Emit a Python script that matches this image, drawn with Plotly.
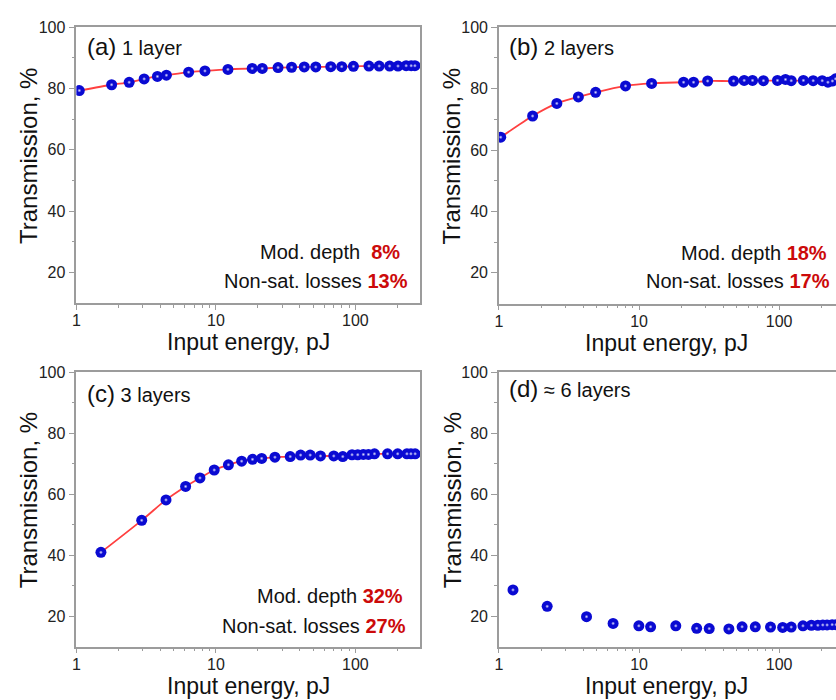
import plotly.graph_objects as go

# ---- measured transmission vs. input pulse energy ----
energy_a = [1.05, 1.79, 2.39, 3.06, 3.81, 4.42, 6.38, 8.35, 12.2, 18.2, 21.5, 27.9,
            34.9, 43.0, 52.0, 66.6, 79.8, 96.8, 125, 148, 176, 202, 231, 251, 267]
trans_a = [79.3, 81.2, 82.0, 83.1, 83.9, 84.3, 85.3, 85.7, 86.2, 86.5, 86.5, 86.8,
           86.9, 87.0, 87.0, 87.1, 87.1, 87.2, 87.3, 87.3, 87.3, 87.3, 87.4, 87.4, 87.4]

energy_b = [1.03, 1.74, 2.59, 3.69, 4.90, 8.01, 12.3, 20.8, 24.5, 30.9, 47.3, 56.3,
            64.6, 77.3, 97.3, 111, 122, 149, 175, 203, 223, 240, 253]
trans_b = [64.2, 71.1, 75.2, 77.3, 78.8, 80.9, 81.7, 82.1, 82.1, 82.5, 82.5, 82.7,
           82.7, 82.6, 82.7, 83.0, 82.6, 82.7, 82.6, 82.6, 82.1, 82.5, 83.2]

energy_c = [1.50, 2.94, 4.39, 6.07, 7.69, 9.73, 12.3, 15.3, 18.3, 21.3, 26.5, 34.1,
            40.5, 47.4, 56.2, 70.0, 81.2, 94.6, 104, 114, 124, 137, 170, 201, 234, 250, 268]
trans_c = [40.9, 51.4, 58.1, 62.5, 65.3, 67.9, 69.6, 70.8, 71.4, 71.7, 72.1, 72.3,
           72.8, 72.8, 72.5, 72.5, 72.3, 72.9, 72.9, 73.0, 73.0, 73.2, 73.2, 73.2, 73.2, 73.2, 73.2]

energy_d = [1.26, 2.21, 4.22, 6.53, 9.97, 12.1, 18.3, 25.8, 31.7, 43.8, 54.4, 67.6,
            86.8, 106, 122, 148, 170, 189, 205, 220, 239, 255]
trans_d = [28.6, 23.2, 19.8, 17.6, 16.8, 16.5, 16.8, 16.0, 15.9, 15.8, 16.5, 16.5,
           16.4, 16.3, 16.4, 16.8, 17.0, 17.0, 17.1, 17.1, 17.2, 17.2]

panel_tags = ["(a)", "(b)", "(c)", "(d)"]
layer_labels = ["1 layer", "2 layers", "3 layers", "\u2248 6 layers"]
mod_depth = [8, 18, 32, None]
nonsat_losses = [13, 17, 27, None]
show_fit = [True, True, True, False]

y_ticks = [20, 40, 60, 80, 100]
y_minor = [30, 50, 70, 90]
x_ticks = [1, 10, 100]
x_minor = [2, 3, 4, 5, 6, 7, 8, 9, 20, 30, 40, 50, 60, 70, 80, 90, 200]

energies = [energy_a, energy_b, energy_c, energy_d]
transmissions = [trans_a, trans_b, trans_c, trans_d]

# ---- page geometry (pixels) ----
W, H = 836, 700


def fx(p):
    return p / W


def fy(p):
    return 1 - p / H


# plot-area boxes: left, right, top, bottom
boxes = [(72.7, 418.0, 19.3, 298.5),
         (497.3, 836.0, 19.5, 299.0),
         (72.7, 418.0, 368.3, 646.0),
         (497.3, 836.0, 368.3, 646.0)]
x_max_log = [2.463, 2.406, 2.463, 2.406]
closed_right = [True, False, True, False]
title_x_center = [246.0, 666.0, 246.0, 666.0]
ytitle_x = [24.0, 450.0, 25.0, 451.0]
tag_y = [38.8, 39.0, 390.0, 385.0]
tag_x = [81.2, 505.5, 81.2, 505.5]

AXIS_GRAY = "#9c9c9c"
TEXT_FAMILY = "Arial, Liberation Sans, sans-serif"
TICK_FONT = dict(family=TEXT_FAMILY, size=16, color="#222222")
RED = "#cc0a0a"
BEAD = "#0a0ad2"

fig = go.Figure()
layout = {}
annotations = []

for i in range(4):
    sfx = "" if i == 0 else str(i + 1)
    xa, ya = "x" + sfx, "y" + sfx
    left, right, top, bottom = boxes[i]

    fig.add_trace(go.Scatter(
        x=energies[i], y=transmissions[i],
        mode="lines+markers" if show_fit[i] else "markers",
        line=dict(color="#ff4040", width=1.8, shape="spline", smoothing=0.7),
        marker=dict(size=11, color=BEAD, line=dict(width=0)),
        xaxis=xa, yaxis=ya, hoverinfo="x+y",
    ))
    # glossy highlight on each bead
    fig.add_trace(go.Scatter(
        x=energies[i], y=transmissions[i], mode="markers",
        marker=dict(size=4, color=BEAD,
                    gradient=dict(type="radial", color="#e4e4ff"),
                    line=dict(width=0)),
        xaxis=xa, yaxis=ya, hoverinfo="skip",
    ))

    layout["xaxis" + sfx] = dict(
        type="log", range=[0, x_max_log[i]],
        domain=[fx(left), fx(right)], anchor=ya,
        showline=True, linecolor=AXIS_GRAY, linewidth=1.5, mirror=True,
        ticks="outside", ticklen=5, tickwidth=1.2, tickcolor=AXIS_GRAY,
        tickvals=x_ticks, ticktext=[str(v) for v in x_ticks],
        tickfont=TICK_FONT, ticklabelstandoff=-3,
        showgrid=False, zeroline=False,
        minor=dict(ticks="outside", ticklen=3, tickwidth=1.2, tickcolor=AXIS_GRAY,
                   tickvals=x_minor, showgrid=False),
    )
    layout["yaxis" + sfx] = dict(
        range=[10, 100],
        domain=[fy(bottom), fy(top)], anchor=xa,
        showline=True, linecolor=AXIS_GRAY, linewidth=1.5,
        mirror=closed_right[i],
        ticks="outside", ticklen=6, tickwidth=1.2, tickcolor=AXIS_GRAY,
        tickvals=y_ticks, ticktext=[str(v) for v in y_ticks],
        tickfont=TICK_FONT, showgrid=False, zeroline=False,
        minor=dict(ticks="outside", ticklen=3, tickwidth=1.2, tickcolor=AXIS_GRAY,
                   tickvals=y_minor, showgrid=False),
    )

    # axis titles
    annotations.append(dict(
        text="Input energy, pJ", xref="paper", yref="paper",
        x=fx(title_x_center[i]), y=fy(bottom + 39.5),
        xanchor="center", yanchor="middle", showarrow=False,
        font=dict(family=TEXT_FAMILY, size=23, color="#111111"),
    ))
    annotations.append(dict(
        text="Transmission, %", xref="paper", yref="paper",
        x=fx(ytitle_x[i]), y=fy((top + bottom) / 2 - 9),
        xanchor="center", yanchor="middle", textangle=-90, showarrow=False,
        font=dict(family=TEXT_FAMILY, size=24, color="#111111"),
    ))

    # panel tag and layer count
    annotations.append(dict(
        text=panel_tags[i] + "<span style='font-size:20px'> " + layer_labels[i] + "</span>",
        xref="paper", yref="paper",
        x=fx(tag_x[i]), y=fy(tag_y[i]),
        xanchor="left", yanchor="middle", showarrow=False,
        font=dict(family=TEXT_FAMILY, size=24, color="#111111"),
    ))

    # saturable-absorber parameters
    if mod_depth[i] is not None:
        gap = "\u00a0\u00a0" if mod_depth[i] < 10 else "\u00a0"
        line1 = ("Mod. depth" + gap + "<span style='color:%s'><b>%d%%</b></span>"
                 % (RED, mod_depth[i]))
        line2 = ("Non-sat. losses\u00a0<span style='color:%s'><b>%d%%</b></span>"
                 % (RED, nonsat_losses[i]))
        r1 = [400.0, 829.3, 403.3][i]
        r2 = [408.0, 831.7, 406.0][i]
        b1 = [254.3, 255.0, 601.7][i]
        b2 = [283.3, 283.3, 631.7][i]
        annotations.append(dict(
            text=line1, xref="paper", yref="paper", x=fx(r1), y=fy(b1 - 7),
            xanchor="right", yanchor="middle", showarrow=False,
            font=dict(family=TEXT_FAMILY, size=20, color="#111111"),
        ))
        annotations.append(dict(
            text=line2, xref="paper", yref="paper", x=fx(r2), y=fy(b2 - 7),
            xanchor="right", yanchor="middle", showarrow=False,
            font=dict(family=TEXT_FAMILY, size=20, color="#111111"),
        ))

fig.update_layout(
    width=W, height=H,
    margin=dict(l=0, r=0, t=0, b=0),
    paper_bgcolor="white", plot_bgcolor="white",
    showlegend=False,
    annotations=annotations,
    font=dict(family=TEXT_FAMILY),
    **layout,
)

fig.write_html("out.html")
